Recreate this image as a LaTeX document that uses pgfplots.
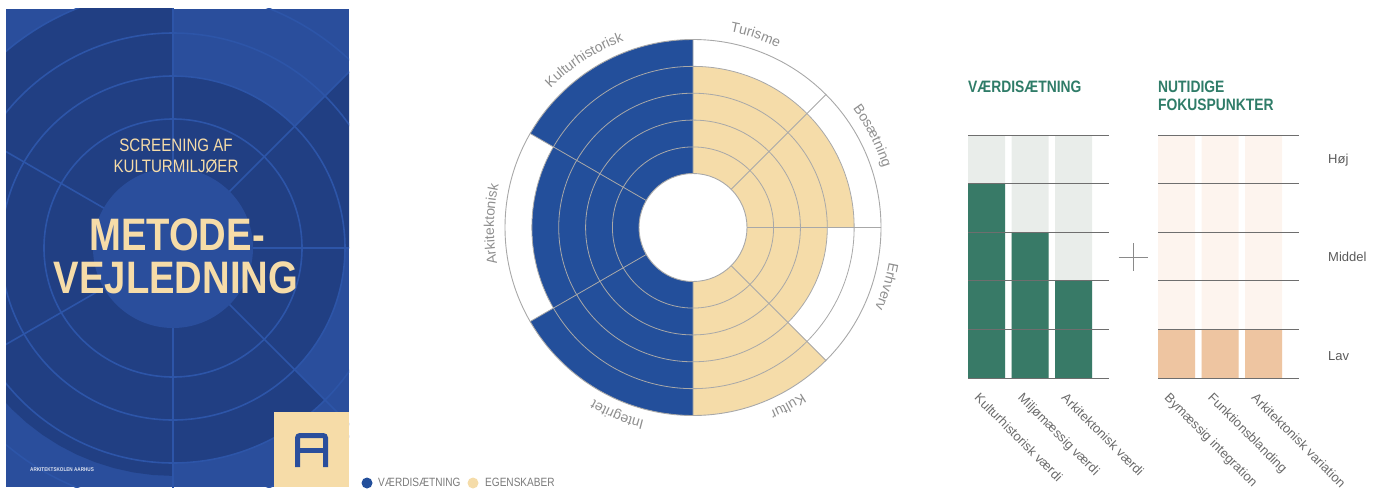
\documentclass[border=0pt]{standalone}
\usepackage{pgfplots}
\pgfplotsset{compat=1.18}
\usepgfplotslibrary{polar}
\usetikzlibrary{decorations.text}
\usepackage{fontspec}
\setmainfont{Liberation Sans}
\newfontfamily\narrow[FakeStretch=0.84]{Liberation Sans}
\definecolor{chartblue}{HTML}{234F9B}
\definecolor{charttan}{HTML}{F5DCA9}
\definecolor{gridgray}{HTML}{A8A8A8}
\definecolor{lblgray}{HTML}{8E8E8E}
\definecolor{coverlight}{HTML}{2A4E9C}
\definecolor{coverdark}{HTML}{213F83}
\definecolor{coverline}{HTML}{2D55A8}
\definecolor{cream}{HTML}{F6DCA8}
\definecolor{barbg}{HTML}{E9EDEA}
\definecolor{bargreen}{HTML}{387A67}
\definecolor{peachbg}{HTML}{FDF4EE}
\definecolor{peach}{HTML}{EEC5A1}
\definecolor{titlegreen}{HTML}{2F7C68}
\definecolor{hlgray}{HTML}{6E6E6E}
\definecolor{tickgray}{HTML}{6A6A6A}
\definecolor{rightlbl}{HTML}{5A5A5A}
\definecolor{plusgray}{HTML}{8A8A8A}
\definecolor{leggray}{HTML}{7A7A7A}
\newcommand\labelfont{\fontsize{14}{14}\selectfont}
\begin{document}
\begin{tikzpicture}[x=1pt,y=1pt]
\useasboundingbox (0,0) rectangle (1380,488);
% ---------------- cover ----------------
\begin{scope}
\clip (6,1) rectangle (349,479);
\fill[coverlight] (6,1) rectangle (349,479);
\begin{polaraxis}[at={(173pt,240pt)}, anchor=center, scale only axis, width=602pt, height=602pt,
  ymin=0, ymax=7, xtick={0,45,90,150,210,270,315}, ytick={3,4,5,6},
  xticklabels={}, yticklabels={}, major tick length=0pt, axis line style={draw=none},
  xmajorgrids, ymajorgrids, major grid style={draw=coverline, line width=1.6pt}, axis on top]
\addplot[fill=coverdark, draw=none] coordinates {(90,0) (90,6) (95,6) (100,6) (105,6) (110,6) (115,6) (120,6) (125,6) (130,6) (135,6) (140,6) (145,6) (150,6) (150,0)};
\addplot[fill=coverdark, draw=none] coordinates {(150,0) (150,6) (155,6) (160,6) (165,6) (170,6) (175,6) (180,6) (185,6) (190,6) (195,6) (200,6) (205,6) (210,6) (210,0)};
\addplot[fill=coverdark, draw=none] coordinates {(210,0) (210,5.3) (215,5.3) (220,5.3) (225,5.3) (230,5.3) (235,5.3) (240,5.3) (245,5.3) (250,5.3) (255,5.3) (260,5.3) (265,5.3) (270,5.3) (270,0)};
\addplot[fill=coverdark, draw=none] coordinates {(270,0) (270,5) (275,5) (280,5) (285,5) (290,5) (295,5) (300,5) (305,5) (310,5) (315,5) (315,0)};
\addplot[fill=coverdark, draw=none] coordinates {(315,0) (315,4) (320,4) (325,4) (330,4) (335,4) (340,4) (345,4) (350,4) (355,4) (360,4) (360,0)};
\addplot[fill=coverdark, draw=none] coordinates {(0,0) (0,7) (5,7) (10,7) (15,7) (20,7) (25,7) (30,7) (35,7) (40,7) (45,7) (45,0)};
\addplot[fill=coverdark, draw=none] coordinates {(45,0) (45,4) (50,4) (55,4) (60,4) (65,4) (70,4) (75,4) (80,4) (85,4) (90,4) (90,0)};
\end{polaraxis}
\fill[coverlight] (173,240) circle (80);
\node[anchor=base, text=cream, font=\narrow\fontsize{18}{18}\selectfont] at (176,336) {SCREENING AF};
\node[anchor=base, text=cream, font=\narrow\fontsize{18}{18}\selectfont] at (176,315) {KULTURMILJØER};
\node[anchor=base, text=cream, font=\narrow\bfseries\fontsize{45.5}{45}\selectfont] at (177,238) {METODE-};
\node[anchor=base, text=cream, font=\narrow\bfseries\fontsize{45.5}{45}\selectfont] at (176,195) {VEJLEDNING};
\node[anchor=base west, text=white!85!coverlight, font=\narrow\bfseries\fontsize{5.5}{6}\selectfont, inner sep=0pt] at (30,17) {ARKITEKTSKOLEN AARHUS};
\fill[cream] (274,1) rectangle (349,76);
\draw[coverlight, line width=5pt, rounded corners=2.5pt] (297.5,21) -- (297.5,52.5) -- (325.5,52.5) -- (325.5,21);
\draw[coverlight, line width=5pt] (297.5,38) -- (325.5,38);
\end{scope}
% ---------------- polar chart ----------------
% levels (1-5): Turisme 4, Bosaetning 4, Erhverv 3, Kultur 5 | Kulturhistorisk 5, Arkitektonisk 4, Integritet 5 ; radius = level + 2
\begin{polaraxis}[at={(693pt,260.5pt)}, anchor=center, scale only axis, width=376pt, height=376pt,
  ymin=0, ymax=7, xtick={0,45,90,150,210,270,315}, ytick={3,4,5,6},
  xticklabels={}, yticklabels={}, major tick length=0pt,
  axis line style={draw=gridgray, line width=0.9pt},
  xmajorgrids, ymajorgrids, major grid style={draw=gridgray, line width=0.8pt}, axis on top]
\addplot[fill=charttan, draw=none] coordinates {(45,0) (45,6) (50,6) (55,6) (60,6) (65,6) (70,6) (75,6) (80,6) (85,6) (90,6) (90,0)};
\addplot[fill=charttan, draw=none] coordinates {(0,0) (0,6) (5,6) (10,6) (15,6) (20,6) (25,6) (30,6) (35,6) (40,6) (45,6) (45,0)};
\addplot[fill=charttan, draw=none] coordinates {(315,0) (315,5) (320,5) (325,5) (330,5) (335,5) (340,5) (345,5) (350,5) (355,5) (360,5) (360,0)};
\addplot[fill=charttan, draw=none] coordinates {(270,0) (270,7) (275,7) (280,7) (285,7) (290,7) (295,7) (300,7) (305,7) (310,7) (315,7) (315,0)};
\addplot[fill=chartblue, draw=none] coordinates {(90,0) (90,7) (95,7) (100,7) (105,7) (110,7) (115,7) (120,7) (125,7) (130,7) (135,7) (140,7) (145,7) (150,7) (150,0)};
\addplot[fill=chartblue, draw=none] coordinates {(150,0) (150,6) (155,6) (160,6) (165,6) (170,6) (175,6) (180,6) (185,6) (190,6) (195,6) (200,6) (205,6) (210,6) (210,0)};
\addplot[fill=chartblue, draw=none] coordinates {(210,0) (210,7) (215,7) (220,7) (225,7) (230,7) (235,7) (240,7) (245,7) (250,7) (255,7) (260,7) (265,7) (270,7) (270,0)};
\end{polaraxis}
\filldraw[fill=white, draw=gridgray, line width=0.9pt] (693,260.5) circle (54);
\foreach \ang/\txt in {72/Turisme, 27/Bosætning, -17/Erhverv, -62/Kultur, 248/Integritet, 179/Arkitektonisk, 123/Kulturhistorisk}{
  \path[decorate, decoration={text along path, text align=center, text={|\color{lblgray}\labelfont|\txt}}]
    ([shift={(\ang+40:199)}]693,260.5) arc[start angle=\ang+40, end angle=\ang-40, radius=199];
}
% legend
\fill[chartblue] (367,5) circle (5.5);
\node[anchor=base west, inner sep=0pt, text=leggray, font=\narrow\fontsize{12}{12}\selectfont] at (378,2) {VÆRDISÆTNING};
\fill[charttan] (473,5) circle (5.5);
\node[anchor=base west, inner sep=0pt, text=leggray, font=\narrow\fontsize{12}{12}\selectfont] at (485,2) {EGENSKABER};
% ---------------- bar charts ----------------
\pgfplotsset{barstyle/.style={scale only axis, width=141pt, height=243pt, anchor=south west,
  xmin=-0.4253, xmax=2.816, ymin=0, ymax=5, ytick={0,...,5}, yticklabels={}, xtick={0,1,2},
  major tick length=0pt, axis line style={draw=none}, ymajorgrids,
  major grid style={draw=hlgray, line width=0.9pt}, axis on top, clip=false,
  xticklabel style={font=\fontsize{13}{13}\selectfont, text=tickgray, inner sep=0pt, anchor=north west, xshift=-6pt, yshift=-14pt, rotate=-45}}}
\begin{axis}[barstyle, at={(968pt,110pt)}, xticklabels={Kulturhistorisk værdi, Miljømæssig værdi, Arkitektonisk værdi}]
\addplot[ybar, bar width=37pt, bar shift=0pt, fill=barbg, draw=none] coordinates {(0,5) (1,5) (2,5)};
\addplot[ybar, bar width=37pt, bar shift=0pt, fill=bargreen, draw=none] coordinates {(0,4) (1,3) (2,2)};
\end{axis}
\begin{axis}[barstyle, at={(1158pt,110pt)}, xticklabels={Bymæssig integration, Funktionsblanding, Arkitektonisk variation}]
\addplot[ybar, bar width=37pt, bar shift=0pt, fill=peachbg, draw=none] coordinates {(0,5) (1,5) (2,5)};
\addplot[ybar, bar width=37pt, bar shift=0pt, fill=peach, draw=none] coordinates {(0,1) (1,1) (2,1)};
\end{axis}
\node[anchor=base west, inner sep=0pt, text=titlegreen, font=\narrow\bfseries\fontsize{16.5}{17}\selectfont] at (968,395) {VÆRDISÆTNING};
\node[anchor=base west, inner sep=0pt, text=titlegreen, font=\narrow\bfseries\fontsize{16.5}{17}\selectfont] at (1158,395) {NUTIDIGE};
\node[anchor=base west, inner sep=0pt, text=titlegreen, font=\narrow\bfseries\fontsize{16.5}{17}\selectfont] at (1158,377) {FOKUSPUNKTER};
\node[anchor=base west, inner sep=0pt, text=rightlbl, font=\fontsize{13}{13}\selectfont] at (1328,324.3) {Høj};
\node[anchor=base west, inner sep=0pt, text=rightlbl, font=\fontsize{13}{13}\selectfont] at (1328,226.3) {Middel};
\node[anchor=base west, inner sep=0pt, text=rightlbl, font=\fontsize{13}{13}\selectfont] at (1328,127.3) {Lav};
\draw[plusgray, line width=1pt] (1118.5,231) -- (1147.5,231) (1133,245) -- (1133,217);
\end{tikzpicture}
\end{document}
